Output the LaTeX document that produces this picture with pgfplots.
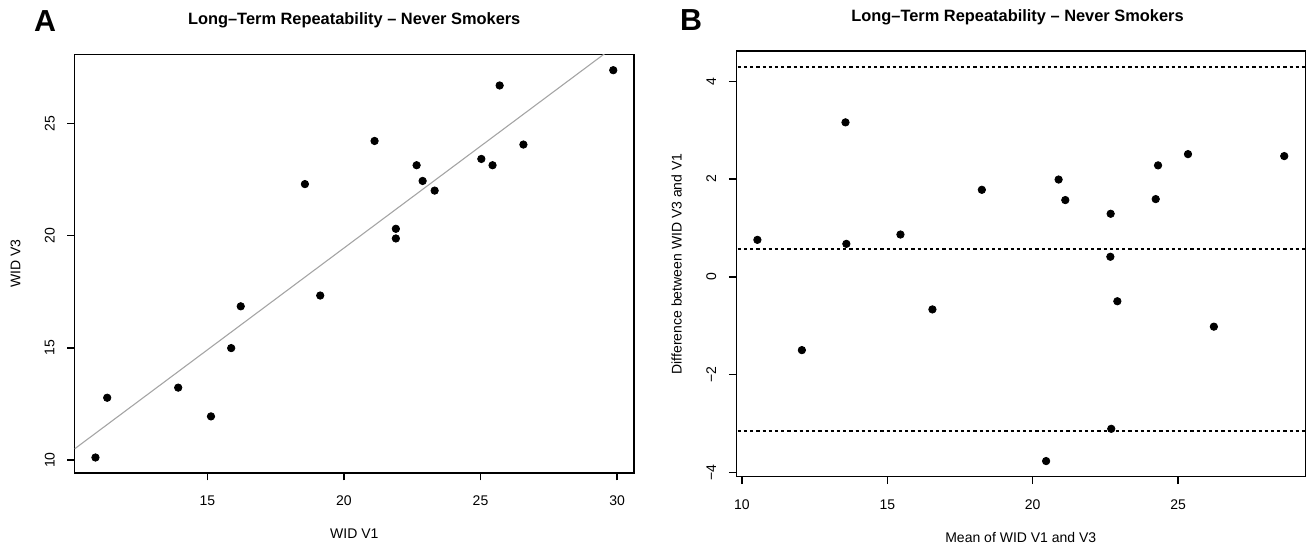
\documentclass[border=0pt]{standalone}
\usepackage{fontspec}
\setmainfont{Liberation Sans}
\usepackage{pgfplots}
\pgfplotsset{compat=1.18}
\definecolor{linegray}{RGB}{165,165,165}
\pgfplotsset{
  rstyle/.style={
    scale only axis,
    axis line style={line width=0.7pt, black},
    every tick/.style={line width=0.7pt, black},
    tick align=outside,
    major tick length=3.7pt,
    xtick pos=bottom, ytick pos=left,
    tick label style={font=\fontsize{7}{8}\selectfont},
    label style={font=\fontsize{7}{8}\selectfont},
    /pgf/number format/assume math mode=true,
    xticklabel style={anchor=center, inner sep=0pt},
    yticklabel style={rotate=90, anchor=center, inner sep=0pt},
    xticklabel shift=10.1pt,
    yticklabel shift=8.8pt,
    clip=true,
  },
  pts/.style={only marks, mark=*, mark size=1.85pt, black, mark options={draw=black, fill=black}},
  loa/.style={black, line width=0.85pt, dash pattern=on 1.6pt off 1.5pt},
}
\begin{document}
\begin{tikzpicture}[x=1pt,y=1pt]
\useasboundingbox (0,0) rectangle (654.5,273);
% ---------- Panel A ----------
\begin{axis}[rstyle,
  at={(37.35pt,36.5pt)}, anchor=south west,
  width=279.65pt, height=209.15pt,
  xmin=10.14, xmax=30.62, ymin=9.43, ymax=28.05,
  xtick={15,20,25,30}, ytick={10,15,20,25},
  xlabel={WID V1}, ylabel={WID V3},
  xlabel style={at={(axis description cs:0.5,0)}, anchor=center, yshift=-30.2pt},
  ylabel style={at={(axis description cs:-0.1059,0.5)}, anchor=center},
]
\addplot[linegray, line width=0.55pt] coordinates {(10.14,10.508) (30.62,29.07)};
\addplot[pts] coordinates {
(10.90,10.12) (11.33,12.78) (13.93,13.23) (15.13,11.95) (15.87,14.99)
(16.22,16.85) (18.57,22.29) (19.13,17.33) (21.12,24.21) (22.66,23.13)
(22.88,22.43) (23.32,22.00) (21.90,20.30) (21.90,19.87) (25.03,23.41)
(25.44,23.13) (25.70,26.68) (26.57,24.05) (29.86,27.36)
};
\end{axis}
% ---------- Panel B ----------
\begin{axis}[rstyle,
  at={(368.15pt,34.65pt)}, anchor=south west,
  width=284.5pt, height=212.85pt,
  xmin=9.805, xmax=29.375, ymin=-4.09, ymax=4.62,
  xtick={10,15,20,25}, ytick={-4,-2,0,2,4},
  yticklabels={−4,−2,0,2,4},
  xlabel={Mean of WID V1 and V3}, ylabel={Difference between WID V3 and V1},
  xlabel style={at={(axis description cs:0.5,0)}, anchor=center, yshift=-30.5pt},
  ylabel style={at={(axis description cs:-0.1049,0.5)}, anchor=center},
]
\addplot[loa] coordinates {(9,4.296) (30,4.296)};
\addplot[loa] coordinates {(9,0.572) (30,0.572)};
\addplot[loa] coordinates {(9,-3.160) (30,-3.160)};
\addplot[pts] coordinates {
(10.53,0.756) (12.06,-1.50) (13.56,3.16) (13.59,0.674) (15.45,0.865)
(16.55,-0.667) (18.25,1.78) (20.46,-3.77) (20.89,1.99) (21.12,1.57)
(22.68,1.29) (22.67,0.41) (22.91,-0.50) (22.70,-3.11) (24.23,1.59)
(24.31,2.28) (25.34,2.51) (26.23,-1.02) (28.65,2.47)
};
\end{axis}
% ---------- Titles and panel letters ----------
\node[font=\bfseries\fontsize{8.2}{10}\selectfont] at (177.1,262.6) {Long--Term Repeatability -- Never Smokers};
\node[font=\bfseries\fontsize{8.2}{10}\selectfont] at (508.75,264.25) {Long--Term Repeatability -- Never Smokers};
\node[font=\bfseries\fontsize{15.2}{17}\selectfont] at (22.5,262.6) {A};
\node[font=\bfseries\fontsize{15.2}{17}\selectfont] at (345.5,262.9) {B};
\end{tikzpicture}
\end{document}
